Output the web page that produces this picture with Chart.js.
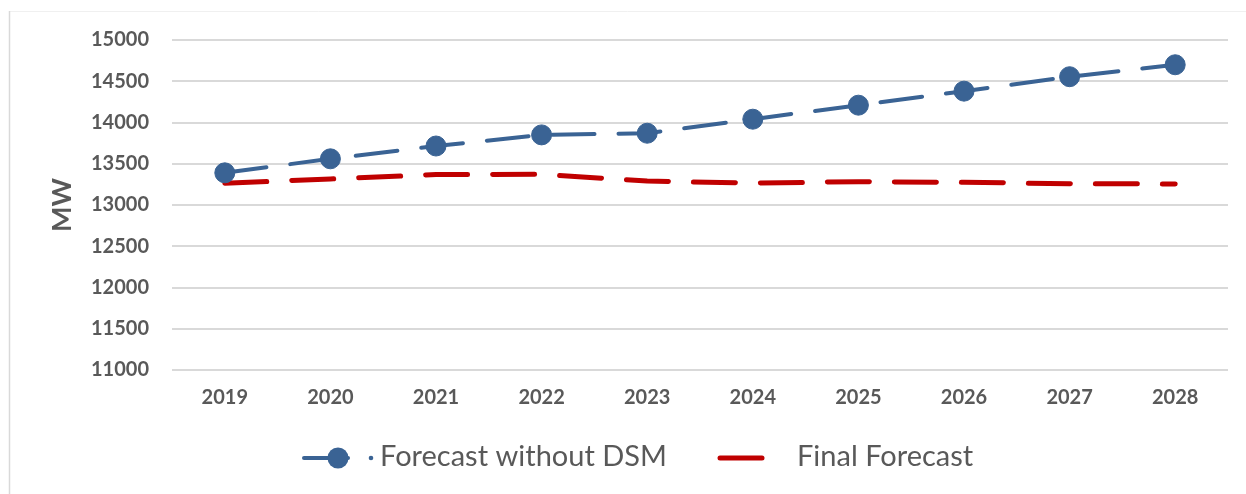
<!DOCTYPE html>
<html>
<head>
<meta charset="utf-8">
<script src="https://cdn.jsdelivr.net/npm/chart.js@4.4.0/dist/chart.umd.min.js"></script>
<style>
  html, body { margin: 0; padding: 0; background: #ffffff; }
  #wrap { width: 1246px; height: 494px; position: relative; }
</style>
</head>
<body>
<div id="wrap"><canvas id="chart" width="1246" height="494"></canvas></div>
<script>
// Peak demand forecast, MW
const years = ['2019', '2020', '2021', '2022', '2023', '2024', '2025', '2026', '2027', '2028'];
const forecastWithoutDsm = [13390, 13560, 13715, 13850, 13870, 14040, 14210, 14380, 14555, 14700];
const finalForecast = [13265, 13315, 13370, 13372, 13290, 13265, 13283, 13275, 13258, 13255];
const yTicks = [11000, 11500, 12000, 12500, 13000, 13500, 14000, 14500, 15000];

const BLUE = '#3A6394';
const RED = '#C00000';
const TEXT = '#595959';
const GRID = '#D9D9D9';

// Frame lines around the chart
const framePlugin = {
  id: 'frame',
  beforeDraw(chart) {
    const ctx = chart.ctx;
    ctx.save();
    ctx.fillStyle = '#ffffff';
    ctx.fillRect(0, 0, chart.width, chart.height);
    ctx.strokeStyle = '#F0F0F0';
    ctx.lineWidth = 1;
    ctx.beginPath();
    ctx.moveTo(9, 11.5);
    ctx.lineTo(chart.width, 11.5);
    ctx.stroke();
    ctx.strokeStyle = GRID;
    ctx.lineWidth = 1.5;
    ctx.beginPath();
    ctx.moveTo(9.5, 11);
    ctx.lineTo(9.5, chart.height);
    ctx.stroke();
    ctx.restore();
  }
};

// Legend drawn beneath the axis, with the line/marker symbols of each series
const legendPlugin = {
  id: 'seriesLegend',
  afterDraw(chart) {
    const ctx = chart.ctx;
    const ds = chart.data.datasets;
    const y = 458;
    ctx.save();
    ctx.lineCap = 'round';
    ctx.font = '29px Lato';
    ctx.textBaseline = 'middle';
    ctx.textAlign = 'left';

    // first series: short line, round marker, then the dot of the next dash
    ctx.strokeStyle = ds[0].borderColor;
    ctx.lineWidth = ds[0].borderWidth;
    ctx.beginPath();
    ctx.moveTo(304, y);
    ctx.lineTo(348, y);
    ctx.stroke();
    ctx.fillStyle = ds[0].pointBackgroundColor;
    ctx.beginPath();
    ctx.arc(338, y, 10.5, 0, Math.PI * 2);
    ctx.fill();
    ctx.beginPath();
    ctx.arc(371, y, 2.3, 0, Math.PI * 2);
    ctx.fill();
    ctx.fillStyle = TEXT;
    ctx.fillText(ds[0].label, 380, y - 1);

    // second series: dash segment
    ctx.strokeStyle = ds[1].borderColor;
    ctx.lineWidth = ds[1].borderWidth;
    ctx.beginPath();
    ctx.moveTo(720, y);
    ctx.lineTo(762, y);
    ctx.stroke();
    ctx.fillStyle = TEXT;
    ctx.fillText(ds[1].label, 797, y - 1);
    ctx.restore();
  }
};

new Chart(document.getElementById('chart'), {
  type: 'line',
  data: {
    labels: years,
    datasets: [
      {
        label: 'Forecast without DSM',
        data: forecastWithoutDsm,
        borderColor: BLUE,
        backgroundColor: BLUE,
        borderWidth: 4,
        borderDash: [42, 24],
        borderCapStyle: 'round',
        pointRadius: 10,
        pointBorderWidth: 1,
        pointBackgroundColor: BLUE,
        pointBorderColor: BLUE,
        tension: 0,
        fill: false
      },
      {
        label: 'Final Forecast',
        data: finalForecast,
        borderColor: RED,
        backgroundColor: RED,
        borderWidth: 5,
        borderDash: [42, 25],
        borderCapStyle: 'round',
        pointRadius: 0,
        tension: 0,
        fill: false
      }
    ]
  },
  options: {
    responsive: false,
    animation: false,
    devicePixelRatio: 1,
    layout: { padding: { left: 0, right: 18, top: 40, bottom: 0 } },
    plugins: {
      legend: { display: false },
      tooltip: { enabled: false }
    },
    scales: {
      x: {
        offset: true,
        grid: { display: false, drawTicks: false },
        border: { display: false },
        ticks: {
          color: TEXT,
          font: { family: 'Lato', size: 20, weight: 'bold' },
          padding: 16,
          maxRotation: 0
        },
        afterFit(scale) { scale.height = 124; }
      },
      y: {
        min: 11000,
        max: 15000,
        afterBuildTicks(scale) { scale.ticks = yTicks.map(v => ({ value: v })); },
        grid: { color: GRID, lineWidth: 2, drawTicks: false },
        border: { display: false },
        ticks: {
          color: TEXT,
          font: { family: 'Lato', size: 20, weight: 'bold' },
          padding: 23,
          callback: v => String(v)
        },
        title: {
          display: true,
          text: 'MW',
          color: TEXT,
          font: { family: 'Lato', size: 27, weight: 'bold' },
          padding: { top: 46, bottom: 0 }
        },
        afterFit(scale) { scale.width = 172; }
      }
    }
  },
  plugins: [framePlugin, legendPlugin]
});
</script>
</body>
</html>
